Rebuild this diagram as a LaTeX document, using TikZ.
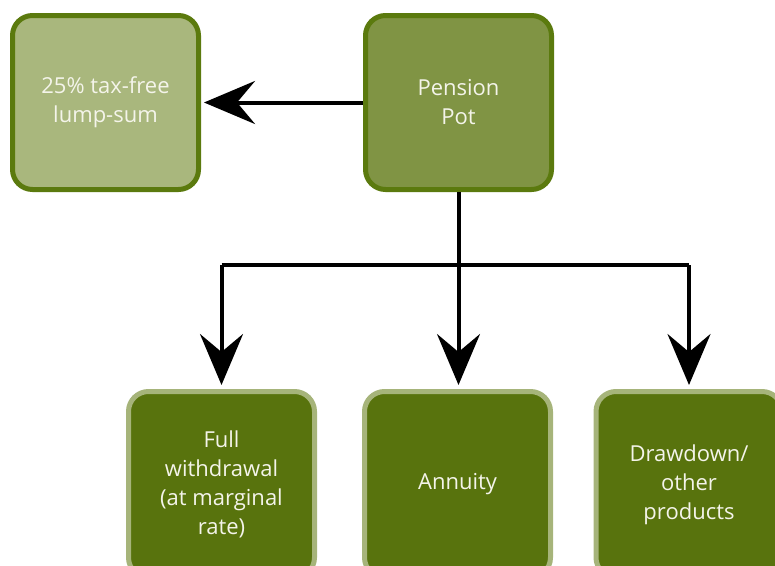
\documentclass[tikz,border=0pt]{standalone}
\usepackage{fontspec}
\setmainfont{Open Sans}
\usetikzlibrary{arrows.meta}
\definecolor{darkborder}{HTML}{5B7A0E}
\definecolor{lightfill}{HTML}{A9B77D}
\definecolor{midfill}{HTML}{809444}
\definecolor{deepfill}{HTML}{58730D}
\definecolor{lightborder}{HTML}{A6B47A}
\definecolor{txt}{HTML}{F4F4EA}
\tikzset{
  box/.style={rectangle, rounded corners=20pt, line width=5pt, minimum width=186pt, minimum height=174pt,
    align=center, text=txt, font=\fontsize{22}{29}\selectfont, inner sep=0pt},
  topbox/.style={box, draw=darkborder},
  botbox/.style={box, draw=lightborder, fill=deepfill, minimum height=186pt},
  arr/.style={line width=4pt, -{Stealth[length=51pt, width=43pt, inset=18pt]}, shorten >=4pt, line join=miter},
  plain/.style={line width=4pt}
}
\begin{document}
\begin{tikzpicture}[x=1pt, y=-1pt]
\useasboundingbox (0,0) rectangle (775,565);
\node[topbox, fill=lightfill] (lump) at (105.5,102.5) {25\% tax-free\\lump-sum};
\node[topbox, fill=midfill] (pot) at (458.5,102.5) {Pension\\Pot};
\node[botbox] (full) at (221.5,484.5) {Full\\withdrawal\\(at marginal\\rate)};
\node[botbox] (ann) at (457.5,484.5) {Annuity};
\node[botbox] (draw) at (689,484.5) {Drawdown/\\other\\products};
\coordinate (j) at (458.5,265);
\draw[arr, shorten >=3pt] (pot.west) -- (lump.east);
\draw[plain] (pot.south) -- (j);
\draw[plain] (full.north |- j) -- (draw.north |- j);
\draw[arr] (full.north |- j) -- (full.north);
\draw[arr] (j) -- (j |- ann.north);
\draw[arr] (draw.north |- j) -- (draw.north);
\end{tikzpicture}
\end{document}
